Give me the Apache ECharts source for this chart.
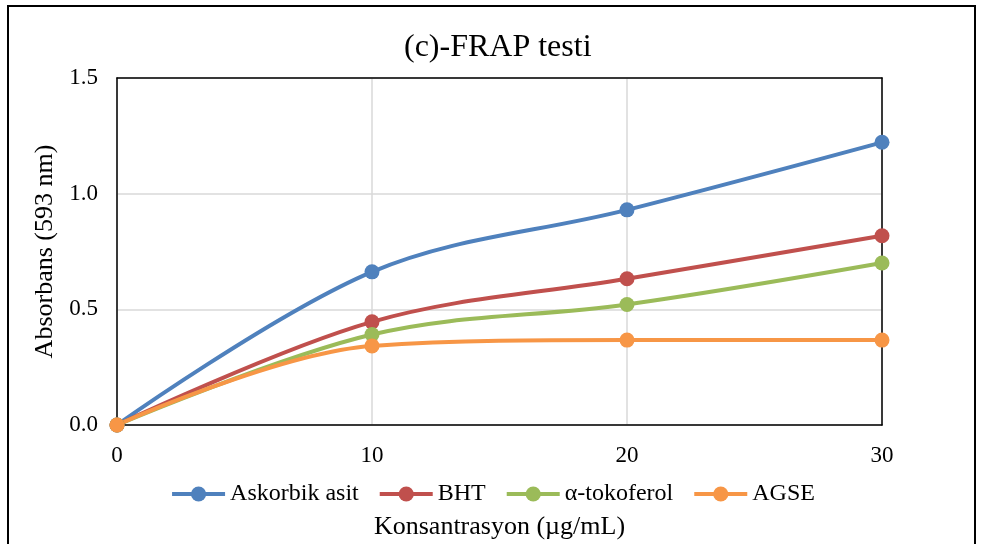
<!DOCTYPE html>
<html>
<head>
<meta charset="utf-8">
<script src="https://cdn.jsdelivr.net/npm/echarts@6/dist/echarts.min.js"></script>
<style>
  html, body { margin: 0; padding: 0; background: #fff; }
  #chart { width: 985px; height: 544px; }
</style>
</head>
<body>
<div id="chart"></div>
<script>
// konsantrasyon (µg/mL)
var konsantrasyon = [0, 10, 20, 30];
var askorbik = [0, 0.662, 0.930, 1.222];
var bht = [0, 0.446, 0.632, 0.818];
var tokoferol = [0, 0.391, 0.521, 0.700];
var agse = [0, 0.342, 0.367, 0.367];

var names = ['Askorbik asit', 'BHT', 'α-tokoferol', 'AGSE'];
var colors = ['#4f81bd', '#c0504d', '#9bbb59', '#f79646'];
var values = [askorbik, bht, tokoferol, agse];

var font = 'Liberation Serif';

function pairs(ys) {
  return konsantrasyon.map(function (x, i) { return [x, ys[i]]; });
}

var series = names.map(function (n, i) {
  return {
    name: n,
    type: 'line',
    data: pairs(values[i]),
    smooth: 0.35,
    symbol: 'circle',
    symbolSize: 15,
    itemStyle: { color: colors[i] },
    lineStyle: { color: colors[i], width: 4 },
    emphasis: { disabled: true }
  };
});

var blackLine = { show: true, onZero: false, lineStyle: { color: '#000', width: 1.5 } };

var chart = echarts.init(document.getElementById('chart'));
chart.setOption({
  animation: false,
  title: {
    text: '(c)-FRAP testi',
    left: 399,
    top: 27,
    textStyle: { fontFamily: font, fontSize: 32, fontWeight: 'normal', color: '#000' }
  },
  graphic: [{
    type: 'rect',
    shape: { x: 8, y: 6, width: 967, height: 560 },
    style: { fill: 'none', stroke: '#000', lineWidth: 2 },
    silent: true
  }],
  grid: { left: 117, top: 78, width: 765, height: 347, outerBoundsMode: 'none', containLabel: false },
  legend: {
    data: names,
    left: 'center',
    top: 477,
    itemWidth: 53,
    itemHeight: 19,
    itemGap: 19,
    lineStyle: { width: 4 },
    textStyle: { fontFamily: font, fontSize: 24, color: '#000' }
  },
  xAxis: [{
    type: 'value',
    min: 0, max: 30, interval: 10,
    name: 'Konsantrasyon (µg/mL)',
    nameLocation: 'middle',
    nameGap: 89,
    nameTextStyle: { fontFamily: font, fontSize: 26, color: '#000' },
    axisLine: blackLine,
    axisTick: { show: false },
    axisLabel: { fontFamily: font, fontSize: 23, color: '#000', margin: 19 },
    splitLine: { show: true, lineStyle: { color: '#d9d9d9', width: 1.5 } }
  }, {
    type: 'value',
    position: 'top',
    min: 0, max: 30,
    axisLine: blackLine,
    axisTick: { show: false },
    axisLabel: { show: false },
    splitLine: { show: false }
  }],
  yAxis: [{
    type: 'value',
    min: 0, max: 1.5, interval: 0.5,
    name: 'Absorbans (593 nm)',
    nameLocation: 'middle',
    nameGap: 58,
    nameTextStyle: { fontFamily: font, fontSize: 26, color: '#000' },
    axisLine: blackLine,
    axisTick: { show: false },
    axisLabel: {
      fontFamily: font, fontSize: 23, color: '#000', margin: 19,
      formatter: function (v) { return v.toFixed(1); }
    },
    splitLine: { show: true, lineStyle: { color: '#d9d9d9', width: 1.5 } }
  }, {
    type: 'value',
    position: 'right',
    min: 0, max: 1.5,
    axisLine: blackLine,
    axisTick: { show: false },
    axisLabel: { show: false },
    splitLine: { show: false }
  }],
  series: series
});
</script>
</body>
</html>
